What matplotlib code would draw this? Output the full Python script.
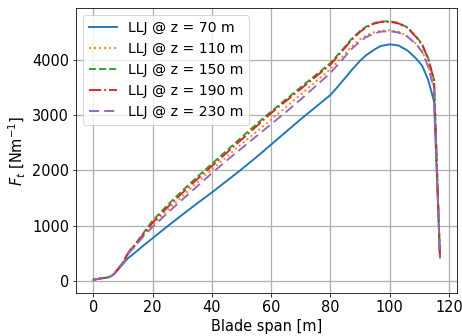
import matplotlib
matplotlib.use("Agg")
import matplotlib.pyplot as plt

span = [0, 2, 4, 5, 6, 7, 8, 9, 10, 11, 12, 14, 17, 20, 25, 30, 35, 40, 45, 50,
        55, 60, 65, 70, 75, 80, 82, 85, 87, 90, 92, 95, 97, 100, 103, 106, 109, 111,
        113, 115, 117]

ft_70 = [15, 35, 50, 60, 80, 120, 180, 240, 300, 370, 420, 505, 640, 770, 985, 1195,
         1400, 1600, 1810, 2020, 2240, 2470, 2700, 2930, 3150, 3370, 3490, 3680, 3810,
         3990, 4090, 4200, 4260, 4290, 4270, 4180, 4030, 3900, 3650, 3250, 420]
ft_110 = [15, 35, 50, 60, 80, 120, 185, 255, 320, 410, 510, 630, 830, 1010, 1275, 1530,
          1780, 2020, 2250, 2480, 2700, 2925, 3150, 3380, 3610, 3840, 3950, 4120, 4240,
          4380, 4450, 4515, 4540, 4545, 4520, 4440, 4300, 4160, 3900, 3500, 420]
ft_150 = [15, 35, 50, 60, 80, 120, 190, 260, 330, 430, 530, 650, 870, 1090, 1370, 1630,
          1880, 2120, 2360, 2600, 2840, 3070, 3290, 3510, 3730, 3950, 4070, 4250, 4380,
          4530, 4610, 4680, 4705, 4710, 4680, 4600, 4430, 4290, 4040, 3650, 420]
ft_190 = [15, 35, 50, 60, 80, 120, 190, 258, 325, 425, 525, 640, 850, 1050, 1330, 1590,
          1840, 2080, 2320, 2560, 2800, 3040, 3260, 3480, 3700, 3920, 4045, 4230, 4360,
          4515, 4595, 4670, 4695, 4700, 4670, 4590, 4420, 4280, 4030, 3640, 420]
ft_230 = [15, 35, 50, 60, 80, 120, 185, 250, 315, 405, 500, 620, 810, 975, 1225, 1470,
          1710, 1950, 2180, 2400, 2620, 2840, 3060, 3290, 3530, 3770, 3890, 4070, 4200,
          4340, 4420, 4490, 4520, 4530, 4505, 4430, 4290, 4150, 3890, 3480, 420]

labels = ["LLJ @ z = 70 m", "LLJ @ z = 110 m", "LLJ @ z = 150 m",
          "LLJ @ z = 190 m", "LLJ @ z = 230 m"]

DPI = 72
plt.rcParams['font.family'] = 'DejaVu Sans'
plt.rcParams['font.size'] = 14.5
fig = plt.figure(figsize=(462 / DPI, 336 / DPI), dpi=DPI)
ax = fig.add_axes([76 / 462, 1 - 292.7 / 336, (457.3 - 76) / 462, (292.7 - 8.3) / 336])

lw = 1.9
ax.plot(span, ft_70, '-', color='tab:blue', lw=lw, label=labels[0])
ax.plot(span, ft_110, ':', color='tab:orange', lw=lw, label=labels[1])
ax.plot(span, ft_150, '--', color='tab:green', lw=lw, label=labels[2])
ax.plot(span, ft_190, '-.', color='tab:red', lw=lw, label=labels[3])
ax.plot(span, ft_230, color='tab:purple', lw=lw, dashes=(5.3, 2.7), label=labels[4])

ax.set_xlabel("Blade span [m]")
ax.set_ylabel(r"$F_t$ [Nm$^{-1}$]")
ax.set_xticks([0, 20, 40, 60, 80, 100, 120])
ax.set_yticks([0, 1000, 2000, 3000, 4000])
ax.grid(True, lw=1.3)
ax.legend(loc='upper left', fontsize=14)

fig.savefig("out.png", dpi=DPI)
